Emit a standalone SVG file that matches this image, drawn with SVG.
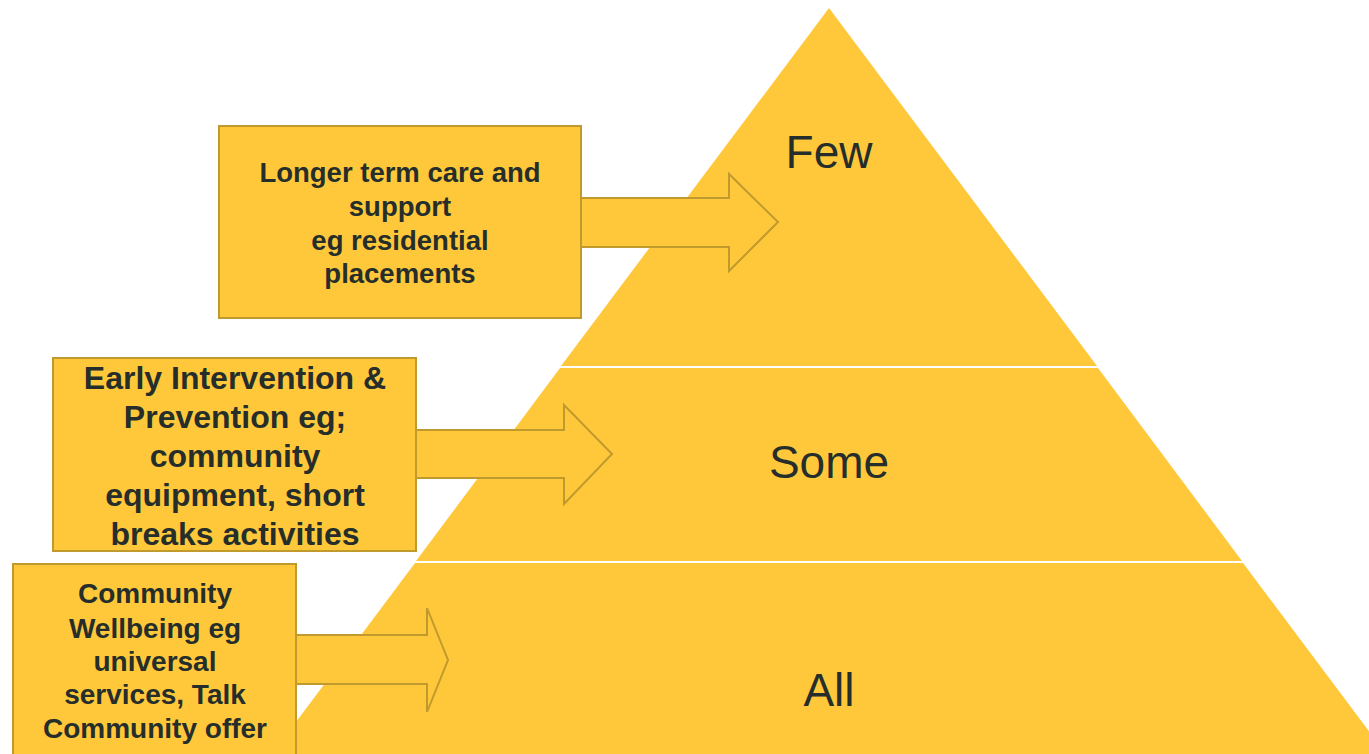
<svg xmlns="http://www.w3.org/2000/svg" width="1369" height="754" viewBox="0 0 1369 754">
<style>
.tier{fill:#FFC83A;stroke:none}
.box{fill:#FFC83A;stroke:#C19A2E;stroke-width:2}
.arr{fill:#FFC83A;stroke:#C19A2E;stroke-width:2;stroke-linejoin:miter}
.lbl{font-family:"Liberation Sans",Arial,sans-serif;font-weight:bold;fill:#262E2B;text-anchor:middle}
.big{font-family:"Liberation Sans",Arial,sans-serif;font-size:46px;fill:#262E2B;text-anchor:middle}
</style>
<rect width="1369" height="754" fill="#FFFFFF"/>
<g id="pyramid">
  <g id="tier-few">
    <polygon class="tier" points="829,8 1097,366 561,366"/>
    <text class="big" x="829" y="168">Few</text>
  </g>
  <g id="tier-some">
    <polygon class="tier" points="560,368 1098,368 1242,561 416,561"/>
    <text class="big" x="829" y="478">Some</text>
  </g>
  <g id="tier-all">
    <polygon class="tier" points="415,563 1243,563 1386,754 272,754"/>
    <text class="big" x="829" y="706">All</text>
  </g>
</g>
<g id="connectors">
  <polygon class="arr" points="581,198 729,198 729,174 778,222 729,271 729,247 581,247"/>
  <polygon class="arr" points="416,430 564,430 564,405 612,454 564,504 564,478 416,478"/>
  <polygon class="arr" points="296,635 427,635 427,608 448,660 427,712 427,684 296,684"/>
</g>
<g id="box-longer-term">
  <rect class="box" x="219" y="126" width="362" height="192"/>
  <text class="lbl" font-size="27.5" x="400" y="182">Longer term care and</text>
  <text class="lbl" font-size="27.5" x="400" y="216">support</text>
  <text class="lbl" font-size="27.5" x="400" y="250">eg residential</text>
  <text class="lbl" font-size="27.5" x="400" y="283">placements</text>
</g>
<g id="box-early-intervention">
  <rect class="box" x="53" y="358" width="363" height="193"/>
  <text class="lbl" font-size="32" x="235" y="389">Early Intervention &amp;</text>
  <text class="lbl" font-size="32" x="235" y="428">Prevention eg;</text>
  <text class="lbl" font-size="32" x="235" y="467">community</text>
  <text class="lbl" font-size="32" x="235" y="506">equipment, short</text>
  <text class="lbl" font-size="32" x="235" y="545">breaks activities</text>
</g>
<g id="box-community-wellbeing">
  <rect class="box" x="13" y="564" width="283" height="200"/>
  <text class="lbl" font-size="28" x="155" y="603">Community</text>
  <text class="lbl" font-size="28" x="155" y="638">Wellbeing eg</text>
  <text class="lbl" font-size="28" x="155" y="671">universal</text>
  <text class="lbl" font-size="28" x="155" y="704">services, Talk</text>
  <text class="lbl" font-size="28" x="155" y="738">Community offer</text>
</g>
</svg>
